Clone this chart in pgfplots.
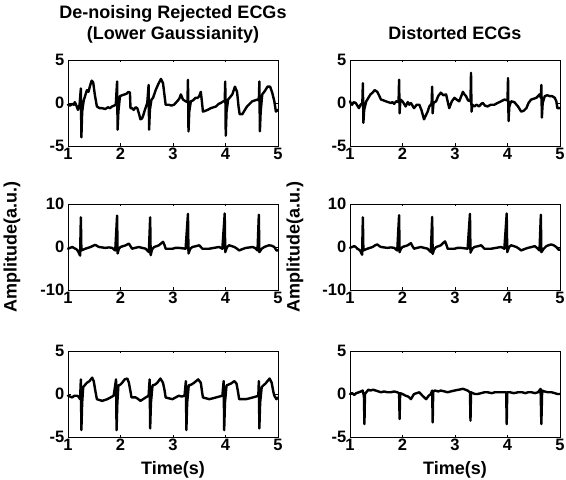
\documentclass[border=0pt]{standalone}
\usepackage{fontspec}
\setmainfont{Liberation Sans}
\usepackage{pgfplots}
\pgfplotsset{compat=1.18}
\pgfplotsset{
  ecgax/.style={
    width=210pt, height=86pt, scale only axis,
    anchor=south west,
    xmin=1, xmax=5, xtick={1,2,3,4,5},
    tick align=inside, tick pos=both,
    major tick length=2.5pt,
    axis line style={line width=0.9pt},
    every tick/.style={line width=0.8pt, black},
    /pgf/number format/assume math mode=true,
    tick label style={font=\fontsize{16.5}{16.5}\selectfont\bfseries},
    xticklabel style={inner sep=1.5pt},
    yticklabel style={inner sep=1.5pt, xshift=-2pt},
    title style={font=\fontsize{18}{21}\selectfont\bfseries, align=center, anchor=south, inner sep=0pt},
    label style={font=\fontsize{18}{21}\selectfont\bfseries},
    clip=false,
  },
  five/.style={ymin=-5, ymax=5, ytick={-5,0,5}},
  ten/.style={ymin=-10, ymax=10, ytick={-10,0,10}},
  ecg/.style={black, line width=2.4pt, line join=round, line cap=round, no marks},
}
\begin{document}
\begin{tikzpicture}[x=1pt,y=1pt]
\path[use as bounding box] (0,0) rectangle (566,480);

% ---------- Top left
\begin{axis}[ecgax, five, at={(68pt,334pt)},
  title={De-noising Rejected ECGs\\(Lower Gaussianity)},
  title style={at={(0.5,1)}, yshift=11pt}]
\addplot[ecg] coordinates {
(1.00,-0.2)(1.04,-0.3)(1.08,-0.1)(1.11,-0.2)(1.13,0.1)(1.16,-0.3)(1.19,-0.8)
(1.22,-0.2)(1.245,1.7)(1.255,-4.0)(1.27,-1.0)(1.30,0.3)(1.33,0.9)
(1.36,1.5)(1.39,1.3)(1.42,2.0)(1.45,2.6)(1.48,2.4)(1.51,1.0)(1.55,-0.4)(1.60,-0.6)
(1.65,-0.6)(1.71,-0.7)(1.76,-0.5)(1.80,-0.6)(1.84,-0.4)(1.88,-0.3)
(1.91,-0.2)(1.935,2.5)(1.945,-3.1)(1.96,-1.0)(1.99,0.8)(2.03,0.9)(2.08,1.0)(2.12,1.1)(2.15,1.3)(2.18,1.2)
(2.19,-0.6)(2.22,-0.6)(2.25,-0.8)(2.29,-0.5)(2.32,-0.6)(2.35,-1.2)(2.38,-1.9)(2.41,-1.8)(2.43,-1.5)(2.47,-0.7)(2.51,0.0)
(2.535,2.1)(2.545,-3.1)(2.56,-0.8)(2.59,0.4)(2.62,0.6)(2.67,1.5)(2.72,2.2)(2.77,2.8)(2.81,2.3)(2.84,0.8)(2.86,-0.2)(2.92,-0.2)
(2.97,-0.3)(3.02,-0.2)(3.08,0.2)(3.12,0.5)(3.15,1.0)(3.19,0.4)(3.24,0.2)(3.275,0.1)(3.285,2.7)(3.295,-3.3)(3.31,-1.0)
(3.34,0.2)(3.38,0.3)(3.43,0.6)(3.47,0.6)(3.50,0.8)(3.53,1.3)(3.55,0.2)(3.57,-1.0)(3.62,-0.9)(3.66,-0.8)(3.72,-0.6)(3.77,-0.5)(3.82,-0.4)
(3.87,-0.1)(3.91,0.0)(3.96,0.2)(3.985,0.2)(3.995,2.5)(4.005,-3.8)(4.02,-1.0)(4.05,0.4)(4.09,0.7)(4.13,1.0)(4.18,1.9)
(4.22,1.3)(4.25,-0.5)(4.27,-1.3)(4.32,-1.3)(4.36,-0.9)(4.41,-0.4)(4.46,-0.1)(4.51,0.2)(4.56,0.3)(4.61,0.4)(4.635,0.3)(4.645,2.5)
(4.655,-3.3)(4.67,-1.0)(4.70,1.0)(4.75,1.4)(4.80,1.9)(4.85,1.9)(4.89,1.2)(4.93,0.2)(4.96,-1.0)(5.00,-0.8)
};
\end{axis}

% ---------- Top right
\begin{axis}[ecgax, five, at={(350pt,334pt)},
  title={Distorted ECGs},
  title style={at={(0.5,1)}, yshift=14pt}]
\addplot[ecg] coordinates {
(1.00,0.2)(1.02,-0.1)(1.04,-0.2)(1.07,0.1)(1.11,0.0)(1.14,-0.3)(1.17,-0.6)(1.20,-0.2)
(1.235,0.0)(1.245,2.3)(1.255,-2.3)(1.27,-0.8)(1.31,0.2)(1.35,0.6)
(1.39,1.0)(1.43,1.2)(1.47,1.5)(1.52,1.3)(1.56,0.8)(1.59,0.4)(1.64,0.3)(1.68,0.2)(1.73,0.1)(1.78,0.0)(1.81,0.1)(1.84,-0.1)
(1.88,0.2)(1.925,0.1)(1.935,2.7)(1.945,-1.2)(1.96,0.4)(2.00,0.2)(2.03,-0.1)(2.06,-0.4)(2.10,0.1)(2.13,-0.2)(2.16,0.0)(2.19,-0.3)(2.22,-0.6)
(2.27,-0.2)(2.32,-0.2)(2.36,-0.8)(2.41,-1.9)(2.44,-1.5)(2.48,-1.0)(2.51,-0.4)(2.54,-0.2)(2.555,0.0)(2.565,1.9)(2.575,-1.2)(2.59,0.0)(2.64,0.2)
(2.68,0.8)(2.73,1.2)(2.78,0.9)(2.83,1.0)(2.86,0.2)(2.89,-0.6)(2.94,0.2)(2.99,0.6)(3.03,0.4)(3.08,0.2)(3.12,0.8)(3.15,1.3)(3.18,1.0)(3.21,0.8)
(3.25,0.3)(3.295,0.2)(3.305,3.5)(3.315,-1.0)(3.33,-0.2)(3.37,-0.4)(3.41,-0.2)(3.46,-0.4)(3.50,-0.1)(3.53,0.0)(3.57,-0.3)(3.62,-0.4)
(3.68,-0.2)(3.75,-0.2)(3.81,0.0)(3.88,0.2)(3.94,0.4)(4.00,0.3)(4.01,2.9)(4.02,-2.1)(4.035,-0.4)(4.07,0.2)(4.13,0.1)(4.20,-0.4)
(4.26,-1.0)(4.31,-0.9)(4.36,-0.6)(4.40,0.0)(4.45,0.4)(4.50,0.5)(4.55,0.6)(4.58,0.8)(4.61,1.0)(4.635,0.6)(4.645,2.1)(4.655,-1.7)
(4.67,0.0)(4.71,0.8)(4.76,0.9)(4.80,0.8)(4.85,0.8)(4.90,0.6)(4.93,0.2)(4.95,-0.6)(5.00,-0.6)
};
\end{axis}

% ---------- Middle left
\begin{axis}[ecgax, ten, at={(68pt,190pt)},
  ylabel={Amplitude(a.u.)},
  ylabel style={at={(axis description cs:-0.267,0.5)}, anchor=center, rotate=0}]
\addplot[ecg] coordinates {
(1.00,-0.4)(1.04,-0.2)(1.08,0.0)(1.11,-0.2)(1.14,-0.4)(1.17,-0.6)(1.20,-1.2)(1.23,-2.0)(1.245,6.9)(1.255,-0.8)
(1.29,-0.6)(1.33,-0.4)(1.38,-0.2)(1.43,0.0)(1.48,0.3)(1.52,0.5)(1.56,0.2)(1.59,0.0)(1.65,-0.1)(1.71,-0.2)(1.78,-0.1)(1.84,-0.2)(1.90,-0.8)
(1.935,7.3)(1.945,-1.5)(1.97,-0.4)(2.00,0.0)(2.05,0.2)(2.10,0.4)(2.16,0.8)(2.19,0.2)(2.22,-0.4)(2.28,-0.2)(2.35,0.0)(2.41,-0.2)
(2.48,-0.4)(2.54,-1.2)(2.565,6.9)(2.575,-1.9)(2.60,-0.6)(2.64,0.0)(2.69,0.2)(2.73,0.4)(2.77,0.8)(2.81,1.2)(2.84,0.4)
(2.86,-0.4)(2.92,-0.4)(2.99,-0.4)(3.05,-0.2)(3.11,-0.2)(3.18,-0.3)(3.24,-0.4)(3.285,7.7)(3.295,-1.5)(3.33,-0.4)(3.37,0.0)
(3.44,0.2)(3.50,0.4)(3.53,0.0)(3.56,-0.4)(3.62,-0.4)(3.69,-0.4)(3.78,-0.2)(3.88,0.0)(3.94,-0.4)(3.985,7.8)(3.995,-1.2)(4.03,0.0)
(4.07,0.4)(4.12,0.2)(4.17,0.0)(4.22,-0.4)(4.26,-0.8)(4.32,-0.5)(4.39,-0.2)(4.46,-0.1)(4.52,0.0)(4.57,-0.3)(4.61,-0.8)(4.635,7.5)
(4.645,-1.2)(4.69,-0.4)(4.74,0.0)(4.78,0.2)(4.83,0.4)(4.88,0.3)(4.93,0.0)(4.97,-0.8)(5.00,-0.8)
};
\end{axis}

% ---------- Middle right
\begin{axis}[ecgax, ten, at={(350pt,190pt)},
  ylabel={Amplitude(a.u.)},
  ylabel style={at={(axis description cs:-0.262,0.5)}, anchor=center, rotate=0}]
\addplot[ecg] coordinates {
(1.00,-0.2)(1.04,0.0)(1.08,0.2)(1.11,0.0)(1.14,-0.4)(1.17,-0.6)(1.20,-1.0)(1.23,-1.8)(1.245,6.9)(1.255,-0.8)
(1.29,-0.6)(1.33,-0.4)(1.38,-0.2)(1.43,0.0)(1.48,0.4)(1.52,0.6)(1.56,0.2)(1.59,0.0)(1.65,-0.1)(1.71,-0.2)(1.78,-0.1)(1.84,-0.2)(1.90,-0.8)
(1.935,7.4)(1.945,-1.2)(1.97,-0.4)(2.00,0.0)(2.05,0.2)(2.10,0.4)(2.16,0.9)(2.19,0.2)(2.22,-0.4)(2.28,-0.2)(2.35,0.0)(2.41,-0.2)
(2.48,-0.4)(2.54,-1.2)(2.565,7.0)(2.575,-1.6)(2.60,-0.6)(2.64,0.0)(2.69,0.2)(2.73,0.4)(2.77,0.9)(2.81,1.3)(2.84,0.4)
(2.86,-0.4)(2.92,-0.4)(2.99,-0.4)(3.05,-0.2)(3.11,-0.2)(3.18,-0.3)(3.24,-0.4)(3.285,7.7)(3.295,-1.3)(3.33,-0.4)(3.37,0.0)
(3.44,0.2)(3.50,0.4)(3.53,0.0)(3.56,-0.4)(3.62,-0.4)(3.69,-0.4)(3.78,-0.2)(3.88,0.0)(3.94,-0.4)(3.985,7.8)(3.995,-1.2)(4.03,0.0)
(4.07,0.4)(4.12,0.2)(4.17,0.0)(4.22,-0.4)(4.26,-0.8)(4.32,-0.5)(4.39,-0.2)(4.46,0.0)(4.52,0.2)(4.57,-0.3)(4.61,-0.8)(4.635,7.5)
(4.645,-1.2)(4.69,-0.4)(4.74,0.2)(4.78,0.4)(4.83,0.6)(4.88,0.4)(4.93,0.0)(4.97,-0.6)(5.00,-0.6)
};
\end{axis}

% ---------- Bottom left
\begin{axis}[ecgax, five, at={(68pt,43pt)},
  xlabel={Time(s)},
  xlabel style={at={(axis description cs:0.5,-0.385)}, anchor=center}]
\addplot[ecg] coordinates {
(1.00,-0.2)(1.04,-0.3)(1.08,-0.4)(1.12,-0.2)(1.17,-0.2)(1.20,-0.3)(1.23,-0.6)(1.245,1.7)(1.255,-4.2)(1.27,-1.0)(1.29,0.8)
(1.33,1.1)(1.36,1.3)(1.41,1.5)(1.46,1.9)(1.49,1.5)(1.52,0.4)(1.55,-0.6)(1.60,-0.7)(1.65,-0.8)(1.70,-0.7)(1.75,-0.6)(1.81,-0.4)
(1.87,-0.2)(1.915,1.7)(1.925,-4.2)(1.94,-1.0)(1.96,1.0)(2.00,1.1)(2.03,1.3)(2.08,1.7)(2.13,1.8)
(2.16,1.3)(2.19,0.3)(2.21,-0.4)(2.25,-0.4)(2.29,-0.4)(2.34,-0.6)(2.38,-0.8)(2.43,-0.6)(2.48,-0.4)(2.535,-0.2)(2.555,1.7)
(2.565,-4.0)(2.58,-1.0)(2.61,1.0)(2.66,1.1)(2.70,1.3)(2.76,1.8)(2.81,1.3)(2.84,0.4)(2.86,-0.4)(2.92,-0.5)(2.99,-0.6)
(3.05,-0.4)(3.11,-0.2)(3.17,-0.3)(3.22,-0.2)(3.245,1.5)(3.255,-4.2)(3.27,-1.0)(3.30,1.0)(3.35,1.1)(3.40,1.3)(3.48,1.7)
(3.53,1.3)(3.55,0.4)(3.57,-0.4)(3.63,-0.5)(3.69,-0.6)(3.76,-0.5)(3.82,-0.4)(3.88,-0.3)(3.94,-0.2)(3.965,1.5)(3.975,-4.2)
(3.99,-1.0)(4.02,1.0)(4.06,1.1)(4.10,1.2)(4.17,1.5)(4.21,1.2)(4.24,0.2)(4.26,-0.6)(4.32,-0.6)(4.39,-0.6)(4.46,-0.5)(4.52,-0.4)
(4.58,-0.3)(4.625,-0.2)(4.635,1.5)(4.645,-4.0)(4.66,-1.0)(4.69,0.8)(4.72,1.0)(4.76,1.2)(4.84,1.8)(4.88,1.3)
(4.91,0.3)(4.93,-0.2)(4.97,-0.6)(5.00,-0.4)
};
\end{axis}

% ---------- Bottom right
\begin{axis}[ecgax, five, at={(350pt,43pt)},
  xlabel={Time(s)},
  xlabel style={at={(axis description cs:0.5,-0.385)}, anchor=center}]
\addplot[ecg] coordinates {
(1.00,0.0)(1.04,0.1)(1.08,-0.1)(1.12,0.1)(1.17,0.2)(1.21,0.3)(1.24,0.4)(1.265,-0.2)(1.275,-3.5)(1.285,0.0)
(1.31,0.2)(1.35,0.5)(1.39,0.4)(1.44,0.5)(1.49,0.4)(1.54,0.3)(1.59,0.2)(1.65,0.3)(1.71,0.2)(1.78,0.2)(1.84,0.3)(1.90,0.2)
(1.935,0.1)(1.945,-2.9)(1.955,0.1)(2.00,0.0)(2.06,-0.2)(2.11,-0.3)(2.16,-0.6)(2.19,-0.3)(2.22,0.0)(2.27,0.1)(2.32,0.2)
(2.38,-0.2)(2.45,-0.6)(2.50,-0.2)(2.54,0.0)(2.565,0.4)(2.575,-3.3)(2.585,0.3)(2.62,0.4)(2.68,0.3)(2.73,0.4)(2.80,0.3)
(2.86,0.2)(2.92,0.3)(2.99,0.4)(3.07,0.5)(3.15,0.6)(3.20,0.5)(3.24,0.4)(3.285,0.2)(3.295,-3.1)(3.305,0.2)(3.34,0.1)(3.38,0.0)
(3.43,0.0)(3.50,0.1)(3.56,0.2)(3.62,0.2)(3.70,0.1)(3.76,0.2)(3.82,0.2)(3.90,0.2)(3.975,0.2)(3.985,-3.5)(3.995,0.2)
(4.05,0.2)(4.12,0.1)(4.20,0.2)(4.28,0.2)(4.34,0.1)(4.39,0.2)(4.46,0.2)(4.52,0.1)(4.58,0.2)(4.63,0.6)(4.645,-3.5)
(4.66,0.4)(4.70,0.3)(4.77,0.2)(4.84,0.2)(4.90,0.1)(4.95,0.0)(5.00,0.0)
};
\end{axis}
\end{tikzpicture}
\end{document}
